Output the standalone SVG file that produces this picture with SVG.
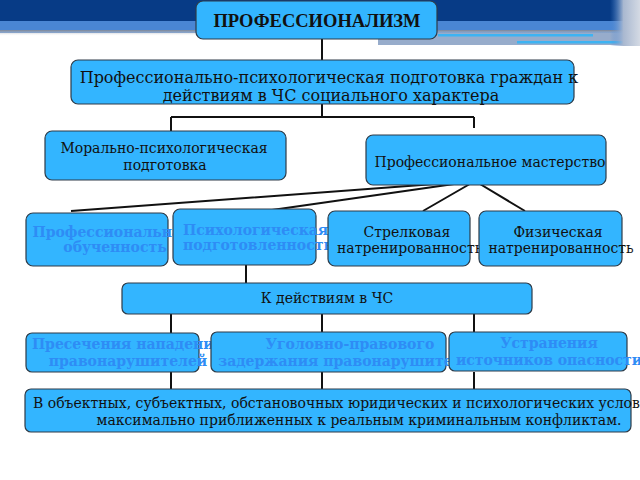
<svg xmlns="http://www.w3.org/2000/svg" width="640" height="480" viewBox="0 0 640 480">
<defs>
<linearGradient id="shadow" x1="0" y1="0" x2="0" y2="1">
<stop offset="0" stop-color="#7b8494"/>
<stop offset="1" stop-color="#ffffff" stop-opacity="0"/>
</linearGradient>
<linearGradient id="edge" x1="0" y1="0" x2="1" y2="0">
<stop offset="0" stop-color="#4a86d4" stop-opacity="0"/>
<stop offset="0.45" stop-color="#a9b8d0"/>
<stop offset="1" stop-color="#d4dae4"/>
</linearGradient>
</defs>
<style>
.box{fill:#33b5ff;stroke:#2e3b48;stroke-width:1.2}
.t{font-family:"DejaVu Serif",serif;font-size:14px;fill:#111;text-anchor:middle}
.l{font-size:16px}
.b{font-family:"DejaVu Serif","Liberation Serif",serif;font-weight:bold;font-size:14px;fill:#2e8cf5;text-anchor:middle}
.c{fill:none;stroke:#111;stroke-width:2}
.st{text-anchor:start}
</style>
<rect x="0" y="0" width="640" height="21" fill="#073b86"/>
<rect x="0" y="21" width="640" height="12" fill="#4a86d4"/>
<rect x="0" y="30" width="640" height="6" fill="url(#shadow)"/>
<rect x="378" y="33" width="250" height="12" fill="#97accb"/>
<rect x="438" y="34" width="155" height="2.5" fill="#3db3f2"/>
<rect x="517" y="41" width="110" height="2.5" fill="#3db3f2"/>
<rect x="610" y="0" width="30" height="46" fill="url(#edge)"/>
<g id="connectors">
<path class="c" d="M322 39V60M322 104V117M171 117H474M171 117V131M474 117V128"/>
<path class="c" d="M475 181L71 211M475 181L272 210M475 181L423 211M475 181L525 211"/>
<path class="c" d="M246 265V283"/>
<path class="c" d="M171 314V333M322 314V333M474 314V333M171 372V389M322 372V389M474 372V389"/>
</g>
<g id="n1"><rect class="box" x="196" y="1" width="241" height="38" rx="7"/>
<text x="317" y="27" font-family="Liberation Serif,serif" font-weight="bold" font-size="18.5" text-anchor="middle" fill="#111">ПРОФЕССИОНАЛИЗМ</text></g>
<g id="n2"><rect class="box" x="71" y="60" width="503" height="44" rx="7"/>
<text class="t l" x="329" y="83">Профессионально-психологическая подготовка граждан к</text>
<text class="t l" x="331" y="101">действиям в ЧС социального характера</text></g>
<g id="n3"><rect class="box" x="45" y="131" width="241" height="49" rx="7"/>
<text class="t" x="164" y="153">Морально-психологическая</text>
<text class="t" x="165" y="170">подготовка</text></g>
<g id="n4"><rect class="box" x="366" y="135" width="240" height="50" rx="7"/>
<text class="t" x="490" y="167">Профессиональное мастерство</text></g>
<g id="n5"><rect class="box" x="26" y="213" width="142" height="53" rx="7"/>
<text class="b" x="112" y="237">Профессиональная</text>
<text class="b" x="115" y="252">обученность</text></g>
<g id="n6"><rect class="box" x="173" y="209" width="143" height="56" rx="7"/>
<text class="b st" x="183" y="235">Психологическая</text>
<text class="b st" x="183" y="250">подготовленность</text></g>
<g id="n7"><rect class="box" x="328" y="211" width="142" height="55" rx="7"/>
<text class="t" x="407" y="237">Стрелковая</text>
<text class="t st" x="337" y="253">натренированность</text></g>
<g id="n8"><rect class="box" x="479" y="211" width="143" height="55" rx="7"/>
<text class="t" x="558" y="237">Физическая</text>
<text class="t" x="561" y="253">натренированность</text></g>
<g id="n9"><rect class="box" x="122" y="283" width="410" height="31" rx="6"/>
<text class="t" x="327" y="303">К действиям в ЧС</text></g>
<g id="n10"><rect class="box" x="26" y="333" width="173" height="39" rx="6"/>
<text class="b" x="128" y="349">Пресечения нападений</text>
<text class="b" x="128" y="366">правонарушителей</text></g>
<g id="n11"><rect class="box" x="211" y="332" width="235" height="40" rx="6"/>
<text class="b" x="350" y="349">Уголовно-правового</text>
<text class="b" x="350" y="366">задержания правонарушителей</text></g>
<g id="n12"><rect class="box" x="449" y="332" width="178" height="39" rx="6"/>
<text class="b" x="549" y="348">Устранения</text>
<text class="b" x="549" y="365">источников опасности</text></g>
<g id="n13"><rect class="box" x="25" y="389" width="606" height="43" rx="6"/>
<text class="t st" x="33" y="408">В объектных, субъектных, обстановочных юридических и психологических условиях,</text>
<text class="t" x="359" y="425">максимально приближенных к реальным криминальным конфликтам.</text></g>
</svg>
